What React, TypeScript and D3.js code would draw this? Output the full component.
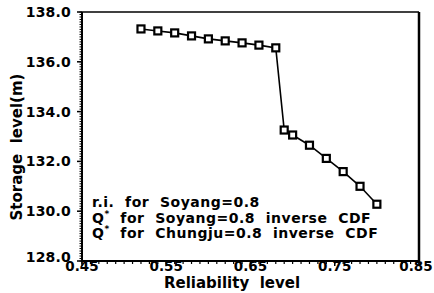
import React from 'react';
import * as d3 from 'd3';

// reliability level vs storage level (Soyang)
const reliability = [0.52, 0.54, 0.56, 0.58, 0.60, 0.62, 0.64, 0.66, 0.68, 0.69, 0.70, 0.72, 0.74, 0.76, 0.78, 0.80];
const storage = [137.32, 137.24, 137.16, 137.04, 136.92, 136.84, 136.76, 136.67, 136.56, 133.26, 133.06, 132.65, 132.12, 131.59, 131.0, 130.28];
const xTicks = [0.45, 0.55, 0.65, 0.75, 0.85];
const yTicks = [128, 130, 132, 134, 136, 138];
const legendLines = [
    ['r.i.', '  for  Soyang=0.8'],
    ['Q', '*', '  for  Soyang=0.8  inverse  CDF'],
    ['Q', '*', '  for  Chungju=0.8  inverse  CDF'],
];

const FONT = '"DejaVu Sans", sans-serif';

const App = () => {
    const left = 82, right = 419, top = 12, bottom = 261;
    const x = d3.scaleLinear().domain([0.45, 0.85]).range([left, right]);
    const y = d3.scaleLinear().domain([128, 138]).range([bottom, top]);
    const pts = reliability.map((r, i) => [r, storage[i]] as [number, number]);
    const line = d3.line<[number, number]>().x(d => x(d[0])).y(d => y(d[1]));
    const xMinor = d3.range(0.45, 0.8501, 0.01);
    const yMinor = d3.range(128, 138.001, 0.1);

    return (
        <svg width={434} height={293} style={{ position: 'absolute', left: 0, top: 0, background: '#fff' }}
            fontFamily={FONT} fontWeight="bold">
            {/* frame */}
            <line x1={left} x2={right} y1={top} y2={top} stroke="#000" strokeWidth={1.5} />
            <line x1={right} x2={right} y1={top} y2={bottom} stroke="#000" strokeWidth={2.5} />
            <line x1={left} x2={left} y1={top} y2={bottom} stroke="#000" strokeWidth={2} />
            <line x1={left} x2={right} y1={bottom} y2={bottom} stroke="#000" strokeWidth={2} />

            {/* minor ticks */}
            {yMinor.map((v, i) => (
                <line key={'ym' + i} x1={left - 2.5} x2={left} y1={y(v)} y2={y(v)} stroke="#000" strokeWidth={1} />
            ))}
            {xMinor.map((v, i) => (
                <line key={'xm' + i} x1={x(v)} x2={x(v)} y1={bottom} y2={bottom + 3} stroke="#000" strokeWidth={1.2} />
            ))}

            {/* y axis */}
            {yTicks.map((v, i) => (
                <g key={'y' + v}>
                    <line x1={left - 5} x2={left} y1={y(v)} y2={y(v)} stroke="#000" strokeWidth={1.5} />
                    <text x={71} y={y(v) - (i === 0 ? 4 : 0)} dy="0.36em" textAnchor="end" fontSize={14}
                        letterSpacing={0.2}>{v.toFixed(1)}</text>
                </g>
            ))}
            {/* x axis */}
            {xTicks.map((v, i) => (
                <g key={'x' + v}>
                    <line x1={x(v)} x2={x(v)} y1={bottom} y2={bottom + 5} stroke="#000" strokeWidth={1.5} />
                    <text x={x(v) - (i === xTicks.length - 1 ? 3 : 0)} y={271} textAnchor="middle"
                        fontSize={13.5}>{v.toFixed(2)}</text>
                </g>
            ))}

            <text x={232} y={288} textAnchor="middle" fontSize={15} style={{ whiteSpace: 'pre' }}>Reliability  level</text>
            <text transform={`translate(22,147) rotate(-90)`} textAnchor="middle" fontSize={15}
                style={{ whiteSpace: 'pre' }}>Storage  level(m)</text>

            {/* series */}
            <path d={line(pts) || ''} fill="none" stroke="#000" strokeWidth={1.6} />
            {pts.map((p, i) => (
                <rect key={'p' + i} x={x(p[0]) - 3.5} y={y(p[1]) - 3.5} width={7} height={7}
                    fill="#fff" stroke="#000" strokeWidth={2.2} />
            ))}

            {/* legend */}
            {legendLines.map((parts, i) => (
                <text key={'l' + i} x={92} y={207 + i * 15.5} fontSize={14} letterSpacing={0.5}
                    style={{ whiteSpace: 'pre' }}>
                    {parts.length === 2
                        ? <>{parts[0]}{parts[1]}</>
                        : <>{parts[0]}<tspan fontSize={9} dy={-6}>{parts[1]}</tspan><tspan dy={6}>{parts[2]}</tspan></>}
                </text>
            ))}
        </svg>
    );
};

export default App;
